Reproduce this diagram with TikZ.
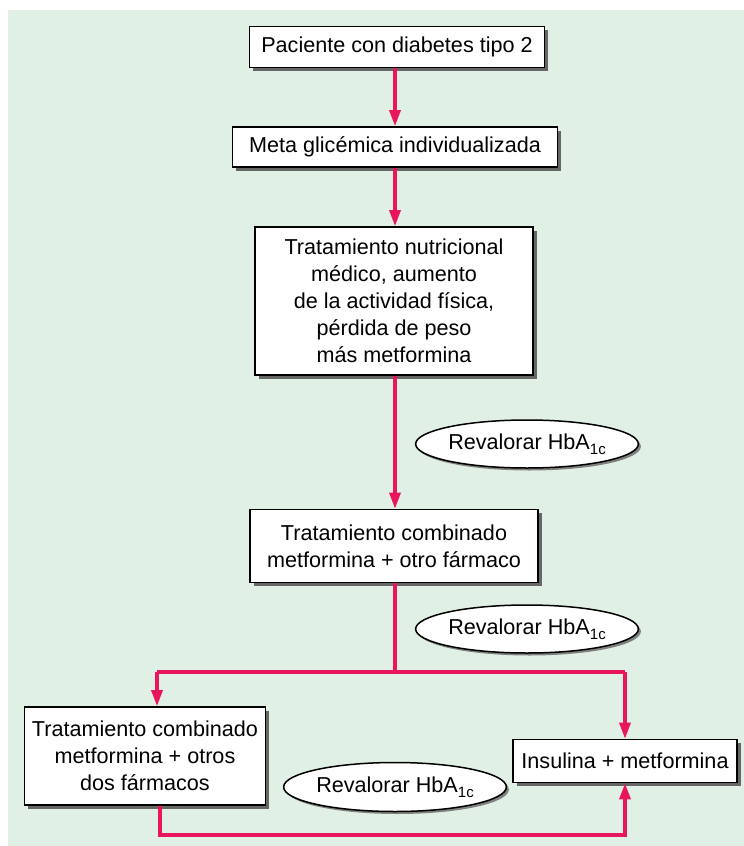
\documentclass[tikz,border=0pt]{standalone}
\usepackage{fontspec}
\setmainfont{Liberation Sans}
\usetikzlibrary{arrows.meta,shapes.geometric,shadows}
\definecolor{fondo}{HTML}{E1F0E4}
\definecolor{rojo}{HTML}{E8175D}
\begin{document}
\begin{tikzpicture}[x=1pt,y=-1pt,
    caja/.style={draw=black,line width=1.6pt,fill=white,align=center,
      font=\fontsize{21.6}{27}\selectfont,inner sep=0pt,
      drop shadow={shadow xshift=3.5pt,shadow yshift=-3.5pt,fill=black!60,opacity=1}},
    reval/.style={ellipse,draw=black,line width=1.5pt,fill=white,inner sep=0pt,
      font=\fontsize{21.6}{27}\selectfont,
      drop shadow={shadow xshift=2.5pt,shadow yshift=-2.5pt,fill=black!50,opacity=1}},
    flujo/.style={draw=rojo,line width=3.2pt},
    flecha/.style={flujo,-{Triangle[width=11pt,length=16pt]}}]
    \useasboundingbox (0,0) rectangle (744,846);
    \fill[white] (0,0) rectangle (744,846);
    \fill[fondo] (8,10) rectangle (744,846);

    \node[caja,minimum width=295,minimum height=41] (paciente) at (397,47) {Paciente con diabetes tipo 2};
    \node[caja,minimum width=325,minimum height=40] (meta) at (395,147) {Meta glicémica individualizada};
    \node[caja,minimum width=278,minimum height=148] (nutri) at (394,301)
        {Tratamiento nutricional\\médico, aumento\\de la actividad física,\\pérdida de peso\\más metformina};
    \node[caja,minimum width=288,minimum height=73] (comb1) at (394,546)
        {Tratamiento combinado\\metformina + otro fármaco};
    \node[caja,minimum width=241,minimum height=98] (comb2) at (145,756)
        {Tratamiento combinado\\metformina + otros\\dos fármacos};
    \node[caja,minimum width=224,minimum height=43] (insulina) at (625,761) {Insulina + metformina};

    \node[reval,minimum width=207,minimum height=48] (hba1) at (527,444) {Revalorar HbA\raisebox{-5pt}{\fontsize{15}{15}\selectfont 1c}};
    \node[reval,minimum width=207,minimum height=48] (hba2) at (527,629) {Revalorar HbA\raisebox{-5pt}{\fontsize{15}{15}\selectfont 1c}};
    \node[reval,minimum width=205,minimum height=49] (hba3) at (395,787) {Revalorar HbA\raisebox{-5pt}{\fontsize{15}{15}\selectfont 1c}};

    \coordinate (eje) at (395,0);
    \coordinate (split) at (395,672);
    \coordinate (ramaL) at (157,672);
    \coordinate (ramaR) at (625,672);
    \coordinate (vuelta) at (160,835);

    \draw[flecha] (eje |- paciente.south) -- (eje |- meta.north);
    \draw[flecha] (eje |- meta.south) -- (eje |- nutri.north);
    \draw[flecha] (eje |- nutri.south) -- (eje |- comb1.north);
    \draw[flujo] (eje |- comb1.south) -- (split);
    \draw[flujo] (ramaL) -- (ramaR);
    \draw[flecha] (ramaL) -- (ramaL |- comb2.north);
    \draw[flecha] (ramaR) -- (insulina.north);
    \draw[flecha] (vuelta |- comb2.south) -- (vuelta) -| (insulina.south);
\end{tikzpicture}
\end{document}
